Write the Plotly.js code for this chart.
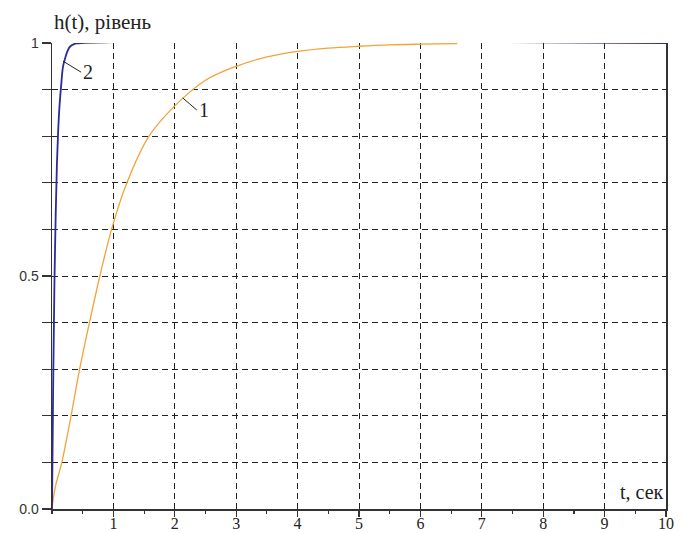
<!DOCTYPE html>
<html>
<head>
<meta charset="utf-8">
<script src="https://cdn.plot.ly/plotly-3.0.1.min.js"></script>
<style>html,body{margin:0;padding:0;background:#fff;}#chart{width:683px;height:533px;}</style>
</head>
<body>
<div id="chart"></div>
<script>
// Curve 1 (orange)
const t1 = [0, 0.05, 0.16, 0.31, 0.45, 0.61, 0.78, 0.97, 1.22, 1.58, 2.0, 2.5, 3.0, 3.5, 4.0, 4.5, 5.0, 5.5, 6.0, 6.6];
const h1 = [0, 0.045, 0.1, 0.2, 0.3, 0.4, 0.5, 0.6, 0.7, 0.8, 0.865, 0.92, 0.95, 0.97, 0.982, 0.989, 0.993, 0.996, 0.9975, 0.9986];
// Curve 2 (blue)
const t2 = [0, 0.02, 0.04, 0.06, 0.08, 0.10, 0.12, 0.15, 0.18, 0.22, 0.26, 0.30, 0.35, 0.40, 10];
const h2 = [0, 0.28, 0.49, 0.63, 0.74, 0.81, 0.86, 0.91, 0.95, 0.97, 0.985, 0.993, 0.997, 0.999, 1.0];
// Tick labels
const xTickVals = [1, 2, 3, 4, 5, 6, 7, 8, 9, 10];
const xTickText = ["1", "2", "3", "4", "5", "6", "7", "8", "9", "10"];
const yTickVals = [0, 0.1, 0.2, 0.3, 0.4, 0.5, 0.6, 0.7, 0.8, 0.9, 1];
const yTickText = ["0.0", "", "", "", "", "0.5", "", "", "", "", "1"];
const yTitle = "h(t), рівень";
const xTitle = "t, сек";
const curveLabels = ["1", "2"];

const traces = [
  {x: t1, y: h1, mode: "lines", line: {color: "#f2a33a", width: 1.3, shape: "spline"}, hoverinfo: "skip"},
  {x: t2, y: h2, mode: "lines", line: {color: "#2a2a9c", width: 1.8, shape: "spline"}, hoverinfo: "skip"}
];

const layout = {
  width: 683, height: 533,
  margin: {l: 52, r: 17, t: 43, b: 24, pad: 0},
  paper_bgcolor: "#fff", plot_bgcolor: "#fff",
  showlegend: false,
  xaxis: {
    range: [0, 10], tickvals: xTickVals, ticktext: xTickText,
    showgrid: true, gridcolor: "#222", griddash: "6px,4px", gridwidth: 1,
    showline: true, linecolor: "#333", linewidth: 1.5,
    ticks: "outside", ticklen: 6, tickcolor: "#333", tickwidth: 1.2,
    minor: {dtick: 0.5, ticks: "outside", ticklen: 3, tickcolor: "#333", showgrid: false},
    tickfont: {family: "Liberation Serif", size: 16, color: "#222"},
    ticklabelstandoff: -7,
    zeroline: false, fixedrange: true
  },
  yaxis: {
    range: [0, 1], tickvals: yTickVals, ticktext: yTickText,
    showgrid: true, gridcolor: "#222", griddash: "6px,4px", gridwidth: 1,
    showline: true, linecolor: "#333", linewidth: 1.5, mirror: true,
    ticks: "outside", ticklen: 9, tickcolor: "#333", tickwidth: 1.2,
    tickfont: {family: "Liberation Sans", size: 14, color: "#333"},
    zeroline: false, fixedrange: true
  },
  annotations: [
    {text: yTitle, xref: "paper", yref: "paper", x: 0, y: 1, xanchor: "left", yanchor: "bottom", yshift: 7, showarrow: false,
     font: {family: "Liberation Serif", size: 21, color: "#222"}},
    {text: xTitle, xref: "x", yref: "y", x: 10, y: 0.036, xanchor: "right", yanchor: "middle", showarrow: false,
     font: {family: "Liberation Serif", size: 20, color: "#222"}},
    {text: curveLabels[0], xref: "x", yref: "y", x: 2.13, y: 0.882, ax: 14, ay: 12, showarrow: true, arrowhead: 0, arrowwidth: 1, arrowcolor: "#222",
     font: {family: "Liberation Serif", size: 20, color: "#222"}, xanchor: "left"},
    {text: curveLabels[1], xref: "x", yref: "y", x: 0.18, y: 0.961, ax: 18, ay: 11, showarrow: true, arrowhead: 0, arrowwidth: 1, arrowcolor: "#222",
     font: {family: "Liberation Serif", size: 20, color: "#222"}, xanchor: "left"}
  ]
};

Plotly.newPlot("chart", traces, layout, {displayModeBar: false, staticPlot: true});
</script>
</body>
</html>
